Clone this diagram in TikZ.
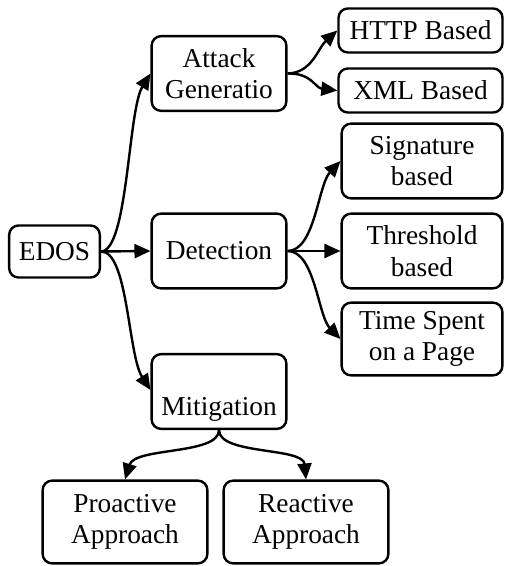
\documentclass[tikz,border=0pt]{standalone}
\usepackage{fontspec}
\setmainfont{Liberation Serif}
\usetikzlibrary{arrows.meta}
\tikzset{
  box/.style={draw, line width=1.8pt, rounded corners=7pt, align=center,
    inner sep=0pt, font=\fontsize{20.5}{23.5}\selectfont},
  link/.style={line width=1.8pt, -{Triangle[length=12pt,width=10.5pt]}},
}
\begin{document}
\begin{tikzpicture}[x=0.75pt, y=-0.75pt]
\useasboundingbox (0,0) rectangle (504,566);

% root
\node[box, minimum width=68pt, minimum height=39pt] (edos) at (54.5,251.5) {EDOS};

% second level
\node[box, minimum width=101pt, minimum height=56pt] (att) at (219,73.5) {Attack\\Generatio};
\node[box, minimum width=101pt, minimum height=56pt] (det) at (219,251) {Detection};
\node[box, minimum width=101pt, minimum height=56pt] (mit) at (219,391.5) {\strut\\Mitigation};

% attack generation branches
\node[box, minimum width=123pt, minimum height=33pt] (http) at (420.5,30.5) {HTTP Based};
\node[box, minimum width=123pt, minimum height=33pt] (xml) at (420.5,90.5) {XML Based};

% detection branches
\node[box, minimum width=120.5pt, minimum height=56pt] (sig) at (422,161) {Signature\\based};
\node[box, minimum width=120.5pt, minimum height=56pt] (thr) at (422,251) {Threshold\\based};
\node[box, minimum width=120.5pt, minimum height=54.5pt] (time) at (422,339) {Time Spent\\on a Page};

% mitigation branches
\node[box, minimum width=123.5pt, minimum height=62pt] (pro) at (125,522) {Proactive\\Approach};
\node[box, minimum width=123.5pt, minimum height=62pt] (rea) at (306,522) {Reactive\\Approach};

% connectors from the root
\draw[link] (edos.east) .. controls (128,251) and (128,110) .. (att.west);
\draw[link] (edos.east) -- (det.west);
\draw[link] (edos.east) .. controls (128,251) and (128,355) .. (mit.west |- 0,390);

% attack generation
\draw[link] (att.east) .. controls (312,73) and (318,48) .. (http.west);
\draw[link] (att.east) .. controls (312,73) and (315,88) .. (xml.west);

% detection
\draw[link] (det.east) .. controls (315,251) and (318,185) .. (sig.west);
\draw[link] (det.east) -- (thr.west);
\draw[link] (det.east) .. controls (315,251) and (318,316) .. (time.west);

% mitigation
\draw[link] (mit.south) .. controls (219,455) and (135,447) .. (pro.north);
\draw[link] (mit.south) .. controls (219,455) and (303,447) .. (rea.north);
\end{tikzpicture}
\end{document}
